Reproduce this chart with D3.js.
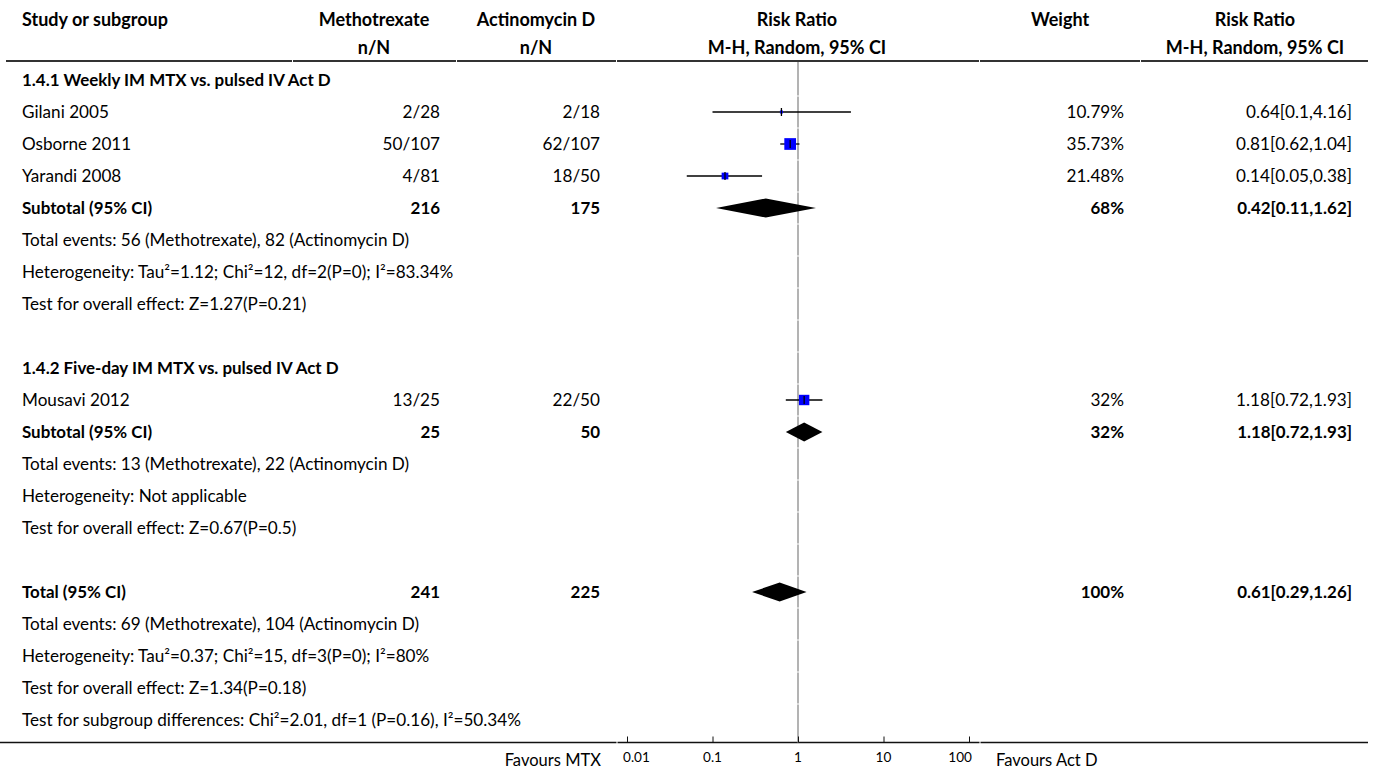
<!DOCTYPE html>
<html><head><meta charset="utf-8">
<script src="https://cdn.jsdelivr.net/npm/d3@7"></script>
<style>
body{margin:0;background:#fff;}
svg text{font-family:"Lato","Noto Sans",sans-serif;fill:#000;}
</style></head>
<body><svg id="c" width="1375" height="771"></svg>
<script>
// ---- data ----
const headers1 = ["Study or subgroup","Methotrexate","Actinomycin D","Risk Ratio","Weight","Risk Ratio"];
const headers2 = ["","n/N","n/N","M-H, Random, 95% CI","","M-H, Random, 95% CI"];
const studies = ["Gilani 2005","Osborne 2011","Yarandi 2008","Mousavi 2012"];
const studyGroup = [0,0,0,1];
const mtxEvents = ["2/28","50/107","4/81","13/25"];
const actEvents = ["2/18","62/107","18/50","22/50"];
const studyRR = [0.64,0.81,0.14,1.18];
const studyLo = [0.1,0.62,0.05,0.72];
const studyHi = [4.16,1.04,0.38,1.93];
const studyWeight = [10.79,35.73,21.48,32];
const studyWeightLabel = ["10.79%","35.73%","21.48%","32%"];
const studyRRLabel = ["0.64[0.1,4.16]","0.81[0.62,1.04]","0.14[0.05,0.38]","1.18[0.72,1.93]"];
const groupTitles = ["1.4.1 Weekly IM MTX vs. pulsed IV Act D","1.4.2 Five-day IM MTX vs. pulsed IV Act D"];
const groupN1 = ["216","25"];
const groupN2 = ["175","50"];
const groupRR = [0.42,1.18];
const groupLo = [0.11,0.72];
const groupHi = [1.62,1.93];
const groupWeight = ["68%","32%"];
const groupRRLabel = ["0.42[0.11,1.62]","1.18[0.72,1.93]"];
const groupNotes = [
  ["Total events: 56 (Methotrexate), 82 (Actinomycin D)","Heterogeneity: Tau²=1.12; Chi²=12, df=2(P=0); I²=83.34%","Test for overall effect: Z=1.27(P=0.21)"],
  ["Total events: 13 (Methotrexate), 22 (Actinomycin D)","Heterogeneity: Not applicable","Test for overall effect: Z=0.67(P=0.5)"]
];
const totalN1 = "241", totalN2 = "225";
const totalRR = 0.61, totalLo = 0.29, totalHi = 1.26;
const totalWeight = "100%", totalRRLabel = "0.61[0.29,1.26]";
const totalNotes = ["Total events: 69 (Methotrexate), 104 (Actinomycin D)","Heterogeneity: Tau²=0.37; Chi²=15, df=3(P=0); I²=80%","Test for overall effect: Z=1.34(P=0.18)","Test for subgroup differences: Chi²=2.01, df=1 (P=0.16), I²=50.34%"];
const axisTicks = [0.01,0.1,1,10,100];
const axisTickLabels = ["0.01","0.1","1","10","100"];
const favoursLeft = "Favours MTX", favoursRight = "Favours Act D";

// ---- build rows ----
const rows = [];
groupTitles.forEach((g,gi)=>{
  rows.push({type:"title",text:g});
  studies.forEach((s,i)=>{ if(studyGroup[i]===gi) rows.push({type:"study",i}); });
  rows.push({type:"subtotal",gi});
  groupNotes[gi].forEach(t=>rows.push({type:"note",text:t}));
  rows.push({type:"blank"});
});
rows.push({type:"total"});
totalNotes.forEach(t=>rows.push({type:"note",text:t}));

const svg = d3.select("#c");

// font size fitting: choose the size whose rendered widths best match the reference's measured text widths
function fitSize(strs, widths, weight){
  const t = svg.append("text").attr("font-size",100).attr("font-weight",weight);
  const r = strs.map((s,i)=>{ t.text(s); return widths[i]/t.node().getComputedTextLength()*100; });
  t.remove();
  return d3.median(r);
}
const FS = fitSize([groupNotes[0][0],groupNotes[0][1],groupNotes[0][2],totalNotes[1],totalNotes[2],totalNotes[3]],
                   [351,431,283,410,285,505],"normal");
const BFS = fitSize(["Subtotal (95% CI)",groupN1[0]],[141,27],"bold");
const HFS = fitSize([headers1[0],headers1[1],headers1[2],headers2[3],headers1[3],headers1[4]],[150,112,117,177,81,57],"bold");
const FFS = fitSize([favoursLeft,favoursRight],[96,102],"normal");
const TFS = fitSize(["0.01","0.1","100"],[28,19,22],"normal");

const rowStep = 32, row0 = 80;
const yRow = d3.scaleLinear().domain([0,1]).range([row0,row0+rowStep]);
const x = d3.scaleLog().domain([0.01,100]).range([627,969]);
const sq = d3.scaleLinear().domain([10.79,35.73]).range([3,11.7]);

const colStudy = 22, colMtx = 440, colAct = 600, colW = 1124, colRR = 1352;
const headerY1 = 19.5, headerY2 = 48, lineY = 61, axisY = 742.5;
const lineColor = "#333";

// header
const hx = [[colStudy,"start"],[374,"middle"],[536,"middle"],[797,"middle"],[1060,"middle"],[1255,"middle"]];
headers1.forEach((h,i)=>svg.append("text").attr("x",hx[i][0]).attr("y",headerY1).attr("dy","0.35em")
  .attr("text-anchor",hx[i][1]).attr("font-weight","bold").attr("font-size",HFS).text(h));
headers2.forEach((h,i)=>{ if(h) svg.append("text").attr("x",hx[i][0]).attr("y",headerY2).attr("dy","0.35em")
  .attr("text-anchor",hx[i][1]).attr("font-weight","bold").attr("font-size",HFS).text(h);});

// header and bottom lines in column segments
const segs = [[6,292],[293,456],[457,616],[617,979],[980,1140],[1141,1368]];
segs.forEach(s=>svg.append("line").attr("x1",s[0]).attr("x2",s[1]).attr("y1",lineY).attr("y2",lineY)
  .attr("stroke",lineColor).attr("stroke-width",2.2));
[[0,616.5],[617.5,979.5],[980.5,1368]].forEach(s=>svg.append("line").attr("x1",s[0]).attr("x2",s[1]).attr("y1",axisY).attr("y2",axisY)
  .attr("stroke","#111").attr("stroke-width",1.6));

// vertical null line, row segments
const nRows = rows.length;
for(let i=0;i<nRows;i++){
  const top = i===0 ? lineY+1 : yRow(i-0.5)+0.5;
  const bot = i===nRows-1 ? axisY : yRow(i+0.5)-0.5;
  svg.append("line").attr("x1",x(1)).attr("x2",x(1)).attr("y1",top).attr("y2",bot)
    .attr("stroke","#9a9a9a").attr("stroke-width",1.5);
}

function txt(xx,y,t,anchor,bold){
  svg.append("text").attr("x",xx).attr("y",y).attr("dy","0.35em").attr("text-anchor",anchor)
    .attr("font-weight",bold?"bold":"normal").attr("font-size",bold?BFS:FS).text(t);
}
function diamond(y,est,lo,hi){
  const h = 9.5;
  svg.append("path").attr("d",`M${x(lo)},${y}L${x(est)},${y-h}L${x(hi)},${y}L${x(est)},${y+h}Z`).attr("fill","#000");
}

rows.forEach((r,i)=>{
  const y = yRow(i);
  if(r.type==="title") txt(colStudy,y,r.text,"start",true);
  else if(r.type==="note") txt(colStudy,y,r.text,"start",false);
  else if(r.type==="study"){
    const k=r.i;
    txt(colStudy,y,studies[k],"start",false);
    txt(colMtx,y,mtxEvents[k],"end",false);
    txt(colAct,y,actEvents[k],"end",false);
    txt(colW,y,studyWeightLabel[k],"end",false);
    txt(colRR,y,studyRRLabel[k],"end",false);
    svg.append("line").attr("x1",x(studyLo[k])).attr("x2",x(studyHi[k])).attr("y1",y).attr("y2",y)
      .attr("stroke","#000").attr("stroke-width",1.3);
    const s = sq(studyWeight[k]);
    svg.append("rect").attr("x",x(studyRR[k])-s/2).attr("y",y-s/2).attr("width",s).attr("height",s).attr("fill","#0000ff");
    svg.append("line").attr("x1",x(studyRR[k])).attr("x2",x(studyRR[k])).attr("y1",y-4).attr("y2",y+4)
      .attr("stroke","#000").attr("stroke-width",1.3);
  } else if(r.type==="subtotal"){
    const g=r.gi;
    txt(colStudy,y,"Subtotal (95% CI)","start",true);
    txt(colMtx,y,groupN1[g],"end",true);
    txt(colAct,y,groupN2[g],"end",true);
    txt(colW,y,groupWeight[g],"end",true);
    txt(colRR,y,groupRRLabel[g],"end",true);
    diamond(y,groupRR[g],groupLo[g],groupHi[g]);
  } else if(r.type==="total"){
    txt(colStudy,y,"Total (95% CI)","start",true);
    txt(colMtx,y,totalN1,"end",true);
    txt(colAct,y,totalN2,"end",true);
    txt(colW,y,totalWeight,"end",true);
    txt(colRR,y,totalRRLabel,"end",true);
    diamond(y,totalRR,totalLo,totalHi);
  }
});

// axis
const ax = svg.append("g").attr("transform",`translate(0,${axisY})`)
  .call(d3.axisTop(x).tickValues(axisTicks).tickSize(6).tickFormat(()=>""));
ax.select(".domain").remove();
ax.selectAll(".tick line").attr("stroke","#111").attr("stroke-width",1);
axisTicks.forEach((t,i)=>{
  const last = i===axisTicks.length-1, first = i===0;
  svg.append("text").attr("x",x(t)+(first?-4:last?3:0)).attr("y",axisY+15).attr("dy","0.35em")
    .attr("text-anchor",first?"start":last?"end":"middle").attr("font-size",TFS).text(axisTickLabels[i]);
});
svg.append("text").attr("x",601).attr("y",766).attr("text-anchor","end").attr("font-size",FFS).text(favoursLeft);
svg.append("text").attr("x",996).attr("y",766).attr("text-anchor","start").attr("font-size",FFS).text(favoursRight);
</script></body></html>
